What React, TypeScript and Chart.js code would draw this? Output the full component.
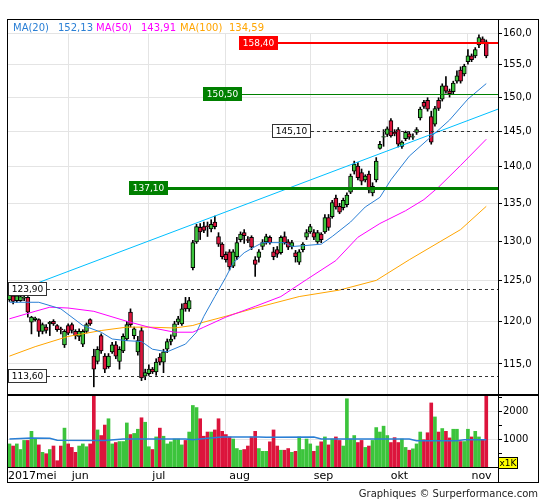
import React, { useEffect, useRef } from 'react';
import { Chart, registerables } from 'chart.js';

Chart.register(...registerables);
Chart.defaults.font.family = '"DejaVu Sans", sans-serif';

// ---------- data ----------
const X_MIN = -0.4;
const X_MAX = 133.2;

const monthStarts = [16, 38, 59, 82, 103, 125];
const monthLabels = ['jun', 'jul', 'aug', 'sep', 'okt', 'nov'];
const firstMonthLabel = '2017mei';

const opens = [
  122.6, 123.1, 122.5, 122.5, 122.8, 122.9, 119.9, 120.2, 120.2, 118.8,
  119.3, 119.7, 120.0, 119.5, 119.1, 117.2, 119.5, 119.6, 118.8, 118.2,
  117.3, 118.8, 120.2, 115.9, 115.3, 118.3, 115.9, 114.7, 116.4, 117.2,
  115.3, 116.5, 117.9, 121.1, 118.3, 116.4, 118.9, 113.6, 113.9, 114.4,
  114.1, 115.8, 115.2, 116.7, 117.6, 118.2, 119.9, 119.7, 122.2, 121.5,
  126.6, 129.9, 131.8, 131.9, 132.0, 131.6, 132.5, 130.6, 129.6, 128.3,
  128.6, 126.8, 128.0, 130.2, 131.1, 130.2, 130.5, 127.6, 127.9, 129.3,
  129.9, 130.5, 128.6, 128.9, 128.5, 130.6, 129.9, 129.3, 128.5, 127.3,
  128.9, 130.5, 131.2, 131.1, 129.9, 130.9, 131.2, 133.1, 133.2, 135.7,
  134.6, 134.4, 134.8, 136.5, 139.4, 140.1, 139.2, 138.2, 139.0, 136.4,
  138.2, 142.6, 144.2, 144.6, 146.6, 144.9, 145.3, 142.9, 144.0, 144.7,
  144.2, 144.9, 147.0, 149.3, 149.6, 147.2, 146.1, 149.6, 149.8, 151.8,
  151.0, 150.9, 152.5, 154.2, 153.6, 155.5, 156.4, 156.4, 158.1, 159.1,
  158.6,
];
const highs = [
  123.5, 123.4, 123.5, 123.2, 123.1, 123.0, 120.6, 120.5, 120.3, 119.8,
  119.6, 120.0, 120.2, 119.6, 119.3, 119.0, 119.7, 119.8, 119.0, 119.1,
  119.0, 119.8, 120.3, 116.7, 117.0, 118.5, 116.2, 116.2, 117.5, 117.6,
  117.0, 118.5, 120.0, 121.5, 119.3, 118.2, 119.3, 114.4, 114.9, 114.6,
  115.6, 116.2, 116.7, 117.9, 118.4, 120.0, 120.6, 122.1, 122.9, 122.9,
  130.1, 132.2, 132.3, 132.5, 132.5, 132.8, 133.3, 131.1, 129.8, 128.6,
  128.9, 128.9, 130.5, 131.2, 131.5, 130.6, 130.7, 128.0, 128.9, 130.2,
  130.9, 130.7, 129.2, 129.3, 130.7, 131.2, 130.2, 130.1, 128.8, 128.9,
  129.8, 131.5, 132.2, 131.5, 131.4, 131.1, 133.5, 133.5, 135.4, 136.1,
  135.0, 135.7, 136.4, 139.0, 140.8, 140.6, 139.7, 138.9, 139.4, 137.8,
  141.3, 143.6, 145.3, 145.7, 146.9, 145.3, 145.6, 143.7, 145.1, 145.0,
  144.7, 145.6, 148.6, 149.6, 150.0, 148.0, 148.7, 150.0, 152.1, 153.2,
  151.3, 152.5, 154.1, 154.7, 155.1, 157.4, 156.7, 157.7, 159.7, 159.4,
  158.9,
];
const lows = [
  122.4, 122.1, 122.3, 122.4, 122.5, 120.5, 118.5, 120.0, 118.2, 118.5,
  118.6, 118.3, 119.5, 118.8, 118.5, 116.9, 118.4, 118.6, 117.9, 117.7,
  117.0, 118.6, 119.5, 112.4, 115.0, 116.2, 114.0, 114.5, 116.2, 115.6,
  114.4, 116.3, 117.7, 119.3, 117.9, 116.0, 113.1, 113.2, 113.7, 113.9,
  113.7, 114.9, 114.0, 116.3, 117.2, 117.9, 119.6, 119.5, 121.2, 121.2,
  126.3, 129.7, 130.2, 131.1, 130.6, 131.2, 131.6, 129.3, 127.7, 127.3,
  126.3, 126.6, 127.6, 129.9, 129.7, 129.8, 128.9, 125.5, 127.3, 128.9,
  129.6, 129.6, 127.6, 127.9, 128.3, 129.6, 128.9, 129.0, 127.3, 127.0,
  128.6, 130.2, 131.0, 130.2, 129.7, 129.8, 131.0, 131.4, 133.0, 134.2,
  133.6, 134.1, 134.5, 136.3, 139.0, 138.2, 137.5, 137.9, 136.4, 136.0,
  137.9, 142.5, 142.9, 144.3, 144.2, 144.4, 142.8, 142.6, 143.7, 143.9,
  143.9, 144.6, 146.7, 148.4, 148.0, 143.2, 145.8, 148.1, 149.5, 150.7,
  150.1, 150.6, 152.2, 152.2, 153.3, 155.1, 155.5, 156.1, 157.7, 158.3,
  156.1,
];
const closes = [
  123.2, 122.4, 123.1, 123.0, 122.9, 121.1, 120.5, 120.4, 118.8, 119.6,
  118.9, 119.9, 119.7, 119.0, 119.0, 118.8, 118.6, 118.9, 118.3, 118.8,
  118.8, 119.6, 119.7, 114.4, 116.7, 116.5, 114.4, 115.9, 117.2, 115.9,
  116.7, 118.2, 119.6, 119.6, 119.1, 117.7, 113.4, 114.0, 114.4, 114.1,
  115.2, 115.2, 116.4, 117.6, 117.9, 119.7, 120.3, 121.5, 121.5, 122.5,
  129.8, 131.9, 131.2, 131.4, 131.9, 132.2, 131.9, 129.6, 128.0, 127.6,
  126.7, 128.6, 129.8, 130.9, 130.7, 130.1, 129.2, 127.0, 128.6, 129.8,
  130.6, 129.8, 128.0, 128.3, 130.5, 129.8, 129.2, 129.8, 128.0, 128.6,
  129.6, 131.1, 131.9, 130.5, 131.1, 130.2, 133.1, 131.8, 135.1, 134.5,
  133.8, 135.4, 136.1, 138.7, 140.4, 138.5, 138.0, 138.7, 136.8, 137.3,
  140.8, 143.2, 144.3, 145.4, 144.4, 144.7, 143.2, 143.5, 144.9, 144.2,
  144.3, 145.3, 148.3, 148.7, 148.3, 143.5, 148.4, 148.4, 151.8, 151.0,
  150.6, 152.2, 153.3, 152.5, 154.8, 156.4, 155.8, 157.4, 159.3, 158.5,
  156.4,
];
const volumes = [
  825, 750, 825, 625, 950, 950, 1275, 1000, 790, 525,
  475, 625, 750, 225, 750, 1390, 825, 700, 525, 750,
  825, 725, 825, 2625, 1325, 1125, 1500, 1725, 825, 875,
  910, 910, 1575, 1160, 1200, 1350, 1760, 1600, 725, 625,
  1075, 1390, 1100, 825, 900, 1000, 1000, 790, 950, 1250,
  2200, 2125, 1725, 1100, 1250, 1250, 1325, 1725, 1275, 1160,
  1075, 1000, 660, 600, 625, 750, 1075, 1275, 660, 560,
  560, 900, 1325, 750, 600, 600, 660, 525, 560, 1075,
  625, 1000, 825, 560, 750, 900, 1075, 790, 1000, 1075,
  950, 750, 2440, 1000, 1125, 875, 950, 700, 750, 950,
  1410, 1250, 1460, 1125, 875, 1050, 875, 1000, 700, 600,
  650, 825, 1250, 975, 1225, 2290, 1790, 1250, 1375, 1275,
  1040, 1350, 1350, 910, 910, 1350, 1075, 1275, 1075, 975,
  2550,
];

const ma20X = [0, 8, 14, 20, 25, 28, 32, 36, 39, 43, 48, 51, 53, 56, 59, 61, 64, 67, 69, 75, 77, 80, 85, 88, 93, 97, 101, 104, 109, 115, 120, 125, 130];
const ma20Y = [122.3, 122.3, 121.5, 119.5, 118.7, 117.9, 117.7, 117.6, 116.7, 116.4, 117.3, 118.7, 120.6, 123.0, 125.4, 127.2, 128.5, 129.3, 129.8, 129.8, 129.3, 129.4, 129.6, 130.6, 132.5, 134.5, 135.8, 138.2, 141.5, 144.3, 146.7, 149.8, 152.13];

const ma50X = [0, 7, 11, 16, 23, 32, 38, 45, 50, 53, 59, 67, 74, 81, 89, 95, 101, 108, 113, 117, 123, 130];
const ma50Y = [120.3, 121.2, 121.7, 121.6, 121.2, 120.0, 119.3, 118.7, 118.7, 119.3, 120.5, 121.8, 123.0, 125.1, 127.5, 130.5, 132.3, 134.0, 135.5, 137.2, 140.2, 143.91];

const ma100X = [0, 7, 16, 25, 32, 38, 45, 50, 53, 59, 67, 79, 90, 100, 109, 123, 130];
const ma100Y = [115.9, 117.0, 118.2, 118.9, 119.3, 119.3, 119.2, 119.5, 119.9, 120.6, 121.6, 123.0, 123.8, 125.0, 127.6, 131.5, 134.59];

const trendX = [X_MIN, X_MAX];
const trendY = [123.3, 148.3];

const volMaX = [0, 6, 11, 13, 26, 31, 48, 50, 54, 58, 68, 70, 83, 85, 109, 111, 122, 124, 130];
const volMaY = [1000, 1040, 1030, 955, 950, 1000, 1000, 975, 1025, 1075, 1075, 1060, 1075, 1000, 1000, 940, 940, 975, 975];

const priceTicks = [115, 120, 125, 130, 135, 140, 145, 150, 155, 160];
const volumeTicks = [500, 1000, 1500, 2000, 2500];
const volumeLabelTicks = [1000, 2000];

const maNames = ['MA(20)', 'MA(50)', 'MA(100)'];
const maLast = [152.13, 143.91, 134.59];

const levelValues = [158.4, 150.5, 145.1, 137.1, 123.9, 113.6];

// ---------- styles ----------
const GREEN = '#3cc43c';
const RED = '#dc143c';
const MA_COLORS = ['#2a7fd5', '#ff00ff', '#ffa500'];
const GRID = '#e4e4e4';

const levelStyles = [
  { anchor: 62.6, box: '#ff0000', border: '', text: '#ffffff', line: '#ff0000', width: 2, dash: [] as number[] },
  { anchor: 52.8, box: '#008000', border: '', text: '#ffffff', line: '#008000', width: 1, dash: [] as number[] },
  { anchor: 71.6, box: '#ffffff', border: '#333333', text: '#000000', line: '#333333', width: 1, dash: [3, 3] },
  { anchor: 32.6, box: '#008000', border: '', text: '#ffffff', line: '#008000', width: 3, dash: [] as number[] },
  { anchor: X_MIN, box: '#ffffff', border: '#333333', text: '#000000', line: '#333333', width: 1, dash: [3, 3] },
  { anchor: X_MIN, box: '#ffffff', border: '#333333', text: '#000000', line: '#333333', width: 1, dash: [3, 3] },
];
const legendX = [13, 58, 96, 141, 180, 229];

const fmt = (v: number, d: number) => v.toFixed(d).replace('.', ',');

const overlayPlugin = {
  id: 'overlay',
  beforeDatasetsDraw(chart: any) {
    const { ctx, chartArea } = chart;
    ctx.save();
    ctx.fillStyle = '#ffffff';
    ctx.fillRect(chartArea.left, chartArea.top, chartArea.right - chartArea.left, 13);
    ctx.restore();
  },
  afterDatasetsDraw(chart: any) {
    const { ctx, chartArea, scales } = chart;
    const xs = scales.x;
    const ys = scales.y;
    ctx.save();
    ctx.font = '9px "DejaVu Sans"';
    levelValues.forEach((v, k) => {
      const st = levelStyles[k];
      const y = Math.round(ys.getPixelForValue(v));
      const label = fmt(v, 2);
      const bw = Math.round(ctx.measureText(label).width + 8);
      const bh = 14;
      const left = Math.max(chartArea.left - 1, Math.round(xs.getPixelForValue(st.anchor)));
      const right = left + bw;
      const yy = st.width % 2 === 1 ? y + 0.5 : y;
      ctx.beginPath();
      ctx.setLineDash(st.dash);
      ctx.lineWidth = st.width;
      ctx.strokeStyle = st.line;
      ctx.moveTo(right, yy);
      ctx.lineTo(chartArea.right, yy);
      ctx.stroke();
      ctx.setLineDash([]);
      ctx.fillStyle = st.box;
      ctx.fillRect(left, y - 7, bw, bh);
      if (st.border) {
        ctx.strokeStyle = st.border;
        ctx.lineWidth = 1;
        ctx.strokeRect(left + 0.5, y - 6.5, bw - 1, bh - 1);
      }
      ctx.fillStyle = st.text;
      ctx.textAlign = 'center';
      ctx.textBaseline = 'middle';
      ctx.fillText(label, left + bw / 2, y + 0.5);
    });
    ctx.restore();
  },
  afterDraw(chart: any) {
    const { ctx, chartArea, scales } = chart;
    ctx.save();
    ctx.strokeStyle = '#000000';
    ctx.lineWidth = 1;
    ctx.strokeRect(7.5, 19.5, 531, 463);
    const line = (x1: number, y1: number, x2: number, y2: number) => {
      ctx.beginPath();
      ctx.moveTo(x1, y1);
      ctx.lineTo(x2, y2);
      ctx.stroke();
    };
    line(chartArea.right + 0.5, 19.5, chartArea.right + 0.5, 482.5);
    line(7.5, chartArea.bottom + 0.5, chartArea.right + 0.5, chartArea.bottom + 0.5);
    ctx.lineWidth = 2;
    const sep = Math.round(scales.y.bottom) + 1;
    line(7, sep, 539, sep);

    // legend
    ctx.font = '10px "DejaVu Sans"';
    ctx.textAlign = 'left';
    ctx.textBaseline = 'alphabetic';
    maNames.forEach((n, k) => {
      ctx.fillStyle = MA_COLORS[k];
      ctx.fillText(n, legendX[2 * k], 31);
      ctx.fillText(fmt(maLast[k], 2), legendX[2 * k + 1], 31);
    });

    // x1K box
    ctx.lineWidth = 1;
    ctx.fillStyle = '#ffff00';
    ctx.fillRect(498, 457, 20, 12);
    ctx.strokeStyle = '#000000';
    ctx.strokeRect(498.5, 457.5, 19, 11);
    ctx.fillStyle = '#000000';
    ctx.font = '9px "DejaVu Sans"';
    ctx.textAlign = 'center';
    ctx.textBaseline = 'middle';
    ctx.fillText('x1K', 508, 463.5);

    // credit
    ctx.font = '10px "DejaVu Sans"';
    ctx.textAlign = 'right';
    ctx.textBaseline = 'alphabetic';
    ctx.fillStyle = '#222222';
    ctx.fillText('Graphiques © Surperformance.com', 538, 497);
    ctx.restore();
  },
};

export default function App() {
  const ref = useRef<HTMLCanvasElement>(null);

  useEffect(() => {
    if (!ref.current) return;
    const idx = closes.map((_, i) => i);
    const up = closes.map((c, i) => c >= opens[i]);
    const pts = (xs: number[], ys: number[]) => xs.map((x, k) => ({ x, y: ys[k] }));

    const chart = new Chart(ref.current, {
      type: 'line',
      data: {
        datasets: [
          { type: 'line', label: 'MA20', data: pts(ma20X, ma20Y), borderColor: MA_COLORS[0], borderWidth: 1, pointRadius: 0, fill: false, tension: 0, yAxisID: 'y', xAxisID: 'x', order: 0 },
          { type: 'line', label: 'MA50', data: pts(ma50X, ma50Y), borderColor: MA_COLORS[1], borderWidth: 1, pointRadius: 0, fill: false, tension: 0, yAxisID: 'y', xAxisID: 'x', order: 0 },
          { type: 'line', label: 'MA100', data: pts(ma100X, ma100Y), borderColor: MA_COLORS[2], borderWidth: 1, pointRadius: 0, fill: false, tension: 0, yAxisID: 'y', xAxisID: 'x', order: 0 },
          { type: 'line', label: 'trend', data: pts(trendX, trendY), borderColor: '#00bfff', borderWidth: 1, pointRadius: 0, fill: false, tension: 0, yAxisID: 'y', xAxisID: 'x', order: 0 },
          { type: 'line', label: 'volMA', data: pts(volMaX, volMaY), borderColor: MA_COLORS[0], borderWidth: 1.5, pointRadius: 0, fill: false, tension: 0, yAxisID: 'yv', xAxisID: 'x', order: 0 },
          {
            type: 'bar', label: 'bodies',
            data: idx.map((i) => ({ x: i, y: [Math.min(opens[i], closes[i]), Math.max(opens[i], closes[i])] })) as any,
            backgroundColor: up.map((u) => (u ? GREEN : RED)),
            borderColor: '#000000', borderWidth: 1, borderSkipped: false, barThickness: 4, grouped: false,
            yAxisID: 'y', xAxisID: 'x', order: 1,
          },
          {
            type: 'bar', label: 'wicks',
            data: idx.map((i) => ({ x: i, y: [lows[i], highs[i]] })) as any,
            backgroundColor: '#000000', borderWidth: 0, barThickness: 1, grouped: false,
            yAxisID: 'y', xAxisID: 'x', order: 2,
          },
          {
            type: 'bar', label: 'volume',
            data: idx.map((i) => ({ x: i, y: volumes[i] })) as any,
            backgroundColor: up.map((u) => (u ? GREEN : RED)),
            borderWidth: 0, barThickness: 3, grouped: false,
            yAxisID: 'yv', xAxisID: 'x', order: 3,
          },
        ] as any,
      },
      options: {
        animation: false,
        responsive: false,
        events: [],
        layout: { padding: { left: 8, top: 20, right: 7, bottom: 18 } },
        plugins: { legend: { display: false }, tooltip: { enabled: false } },
        scales: {
          x: {
            type: 'linear', position: 'bottom', min: X_MIN, max: X_MAX, offset: false,
            afterBuildTicks: (s: any) => { s.ticks = [X_MIN, ...monthStarts].map((v) => ({ value: v })); },
            afterFit: (s: any) => { s.height = 15; },
            ticks: {
              autoSkip: false, maxRotation: 0, minRotation: 0, align: 'start', padding: 3, color: '#000000',
              font: { size: 11 },
              callback: (_v: any, i: number) => (i === 0 ? firstMonthLabel : ' ' + monthLabels[i - 1]),
            },
            grid: { color: (c: any) => (c.index === 0 ? 'rgba(0,0,0,0)' : GRID), drawTicks: false, offset: false },
            border: { display: false },
          },
          y: {
            type: 'logarithmic', position: 'right', stack: 'panels', stackWeight: 374,
            min: 111.6, max: 162.1, beginAtZero: false,
            afterBuildTicks: (s: any) => { s.ticks = priceTicks.map((v) => ({ value: v })); },
            afterFit: (s: any) => { s.width = 40; },
            ticks: {
              autoSkip: false, padding: 1, color: '#000000', font: { size: 10 },
              callback: (v: any) => fmt(Number(v), 1),
            },
            grid: { color: GRID, tickColor: '#000000', tickLength: 4, drawTicks: true },
            border: { display: false },
          },
          yv: {
            type: 'linear', position: 'right', stack: 'panels', stackWeight: 73,
            min: 0, max: 2610,
            afterBuildTicks: (s: any) => { s.ticks = volumeTicks.map((v) => ({ value: v })); },
            afterFit: (s: any) => { s.width = 40; },
            ticks: {
              autoSkip: false, padding: 1, color: '#000000', font: { size: 10 },
              callback: (v: any) => (volumeLabelTicks.includes(Number(v)) ? String(v) : ''),
            },
            grid: {
              color: (c: any) => (c.tick && volumeLabelTicks.includes(c.tick.value) ? GRID : 'rgba(0,0,0,0)'),
              tickColor: '#000000', tickLength: 4, drawTicks: true,
            },
            border: { display: false },
          },
        } as any,
      },
      plugins: [overlayPlugin],
    } as any);

    return () => chart.destroy();
  }, []);

  return (
    <div style={{ position: 'fixed', left: 0, top: 0, width: 545, height: 500, background: '#ffffff' }}>
      <canvas ref={ref} width={545} height={500} style={{ display: 'block', width: 545, height: 500 }} />
    </div>
  );
}
